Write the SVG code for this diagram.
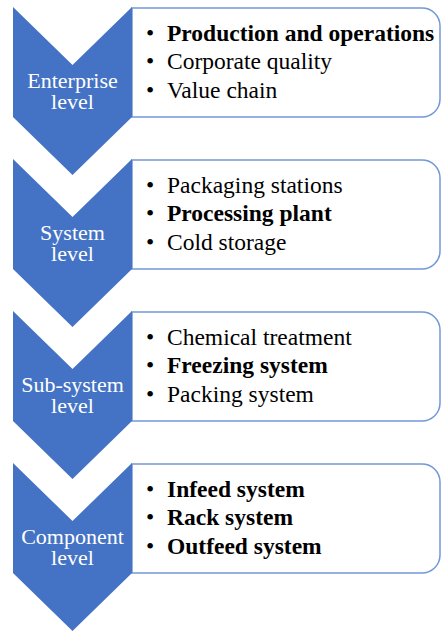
<svg xmlns="http://www.w3.org/2000/svg" width="441" height="632" viewBox="0 0 441 632">
  <style>
    .chev { fill: #4472C4; }
    .box { fill: #FFFFFF; stroke: #7397D8; stroke-width: 1.5; }
    .lvl { font-family: "Liberation Serif", "Times New Roman", serif; font-size: 22px; fill: #FFFFFF; text-anchor: middle; }
    .item { font-family: "Liberation Serif", "Times New Roman", serif; font-size: 23.5px; fill: #000000; }
    .dot { text-anchor: middle; }
    .b { font-weight: bold; }
  </style>
  <defs>
    <!-- right-rounded list panel, local coords from panel top-left -->
    <path id="panel" d="M0,0 H290 A18,18 0 0 1 308,18 V91 A18,18 0 0 1 290,109 H0 Z"/>
    <!-- downward chevron, local coords from top-left -->
    <path id="chevron" d="M0,0 L59.5,58 L119,0 L119,110 L59.5,168 L0,110 Z"/>
  </defs>

  <g id="connectors"></g>

  <!-- Enterprise level -->
  <g id="enterprise">
    <use href="#panel" class="box" x="132" y="8"/>
    <use href="#chevron" class="chev" x="13" y="7"/>
    <text class="lvl" x="72.5" y="88">Enterprise</text>
    <text class="lvl" x="72.5" y="109">level</text>
    <text class="item dot" x="150" y="41">•</text>
    <text class="item b" x="167" y="41">Production and operations</text>
    <text class="item dot" x="150" y="69">•</text>
    <text class="item" x="167" y="69">Corporate quality</text>
    <text class="item dot" x="150" y="98">•</text>
    <text class="item" x="167" y="98">Value chain</text>
  </g>

  <!-- System level -->
  <g id="system">
    <use href="#panel" class="box" x="132" y="160"/>
    <use href="#chevron" class="chev" x="13" y="159"/>
    <text class="lvl" x="72.5" y="240">System</text>
    <text class="lvl" x="72.5" y="261">level</text>
    <text class="item dot" x="150" y="193">•</text>
    <text class="item" x="167" y="193">Packaging stations</text>
    <text class="item dot" x="150" y="221">•</text>
    <text class="item b" x="167" y="221">Processing plant</text>
    <text class="item dot" x="150" y="250">•</text>
    <text class="item" x="167" y="250">Cold storage</text>
  </g>

  <!-- Sub-system level -->
  <g id="subsystem">
    <use href="#panel" class="box" x="132" y="312"/>
    <use href="#chevron" class="chev" x="13" y="311"/>
    <text class="lvl" x="72.5" y="392">Sub-system</text>
    <text class="lvl" x="72.5" y="413">level</text>
    <text class="item dot" x="150" y="345">•</text>
    <text class="item" x="167" y="345">Chemical treatment</text>
    <text class="item dot" x="150" y="373">•</text>
    <text class="item b" x="167" y="373">Freezing system</text>
    <text class="item dot" x="150" y="402">•</text>
    <text class="item" x="167" y="402">Packing system</text>
  </g>

  <!-- Component level -->
  <g id="component">
    <use href="#panel" class="box" x="132" y="464"/>
    <use href="#chevron" class="chev" x="13" y="463"/>
    <text class="lvl" x="72.5" y="544">Component</text>
    <text class="lvl" x="72.5" y="565">level</text>
    <text class="item dot" x="150" y="497">•</text>
    <text class="item b" x="167" y="497">Infeed system</text>
    <text class="item dot" x="150" y="525">•</text>
    <text class="item b" x="167" y="525">Rack system</text>
    <text class="item dot" x="150" y="554">•</text>
    <text class="item b" x="167" y="554">Outfeed system</text>
  </g>
</svg>
